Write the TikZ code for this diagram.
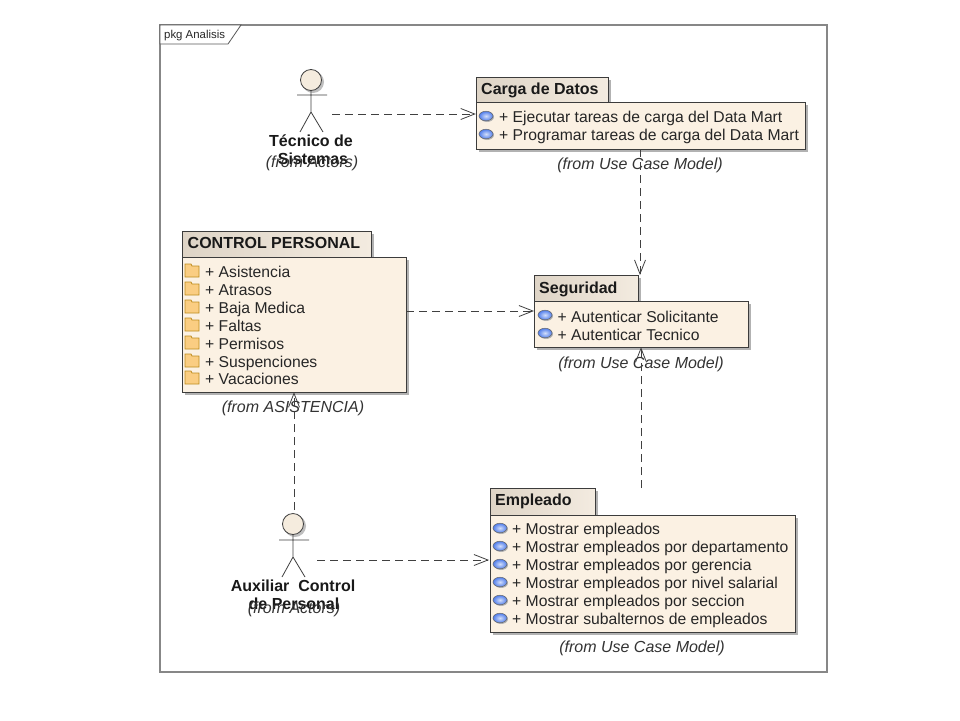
\documentclass[tikz,border=0pt]{standalone}
\usepackage{fontspec}
\setmainfont{Liberation Sans}
\usetikzlibrary{arrows.meta}
\definecolor{bodyfill}{RGB}{251,241,227}
\definecolor{tabfill}{RGB}{243,235,224}
\definecolor{tabdark}{RGB}{222,212,198}
\definecolor{edge}{RGB}{60,60,60}
\definecolor{framegray}{RGB}{135,135,135}
\definecolor{iconblue}{RGB}{80,125,235}
\definecolor{folder}{RGB}{250,205,130}
\definecolor{folderedge}{RGB}{190,140,30}
\definecolor{headfill}{RGB}{245,236,222}
\tikzset{
  x=1pt,y=-1pt,
  pkgbody/.style={draw=edge,line width=0.9pt,fill=bodyfill},
  pkgtab/.style={draw=edge,line width=0.9pt,left color=tabdark,right color=tabfill},
  shade box/.style={fill=black!30,draw=none},
  tabtext/.style={anchor=base west,inner sep=0pt,font=\fontsize{16}{18}\selectfont\bfseries,text=black!90},
  itemtext/.style={anchor=base west,inner sep=0pt,font=\fontsize{15.7}{18}\selectfont,text=black!85},
  fromtext/.style={anchor=base,inner sep=0pt,font=\fontsize{16}{18}\selectfont\itshape,text=black!80},
  actortext/.style={anchor=base,inner sep=0pt,font=\fontsize{16}{18}\selectfont\bfseries,text=black!90},
  limb/.style={draw=black!75,line width=0.8pt},
  dep/.style={draw=black!75,line width=0.8pt,dash pattern=on 8pt off 5pt,-{Straight Barb[length=14pt,width=11pt,line width=0.8pt]}},
  pt/.style={inner sep=0pt,minimum size=0pt},
}
\newcommand{\pkgshape}[6]{%
  \fill[shade box] (#1+3,#3+3) rectangle (#2+3,#4+3);
  \fill[shade box] (#1+3,#5+3) rectangle (#6+3,#3);
  \path[pkgtab] (#1,#5) rectangle (#6,#3);
  \path[pkgbody] (#1,#3) rectangle (#2,#4);
}
\newcommand{\opicon}[2]{%
  \fill[black!30] (#1+1,#2+1) ellipse [x radius=7,y radius=5];
  \shade[inner color=white!75!iconblue,outer color=iconblue,draw=black!60,line width=0.5pt] (#1,#2) ellipse [x radius=7,y radius=4.8];
}
\newcommand{\foldericon}[2]{%
  \path[fill=folder,draw=folderedge,line width=0.7pt] (#1,#2-5) -- (#1,#2-7) -- (#1+6,#2-7) -- (#1+7,#2-5) -- (#1+14,#2-5) -- (#1+14,#2+6) -- (#1,#2+6) -- cycle;
}
\begin{document}
\begin{tikzpicture}
\useasboundingbox (0,0) rectangle (960,720);
\fill[white] (0,0) rectangle (960,720);
% frame
\draw[framegray,line width=1.2pt,fill=white] (160,25) rectangle (827,672);
\draw[black!65,line width=0.8pt,fill=white] (160,25) -- (241,25) -- (228,44) -- (160,44) -- cycle;
\node[anchor=base west,inner sep=0pt,font=\fontsize{11.4}{13}\selectfont,text=black!85] (frameLabel) at (164,38) {pkg Analisis};

% Carga de Datos
\pkgshape{476}{805}{102}{149}{77}{608}
\node[pt] (carga) at (640.5,125.5) [minimum width=329pt,minimum height=47pt] {};
\node[tabtext] (cargaTitle) at (481,94.5) {Carga de Datos};
\opicon{486}{116}\opicon{486}{134}
\node[itemtext] (carga1) at (499,122) {+ Ejecutar tareas de carga del Data Mart};
\node[itemtext] (carga2) at (499,140) {+ Programar tareas de carga del Data Mart};
\node[fromtext] (cargaFrom) at (640,169.5) {(from Use Case Model)};

% Seguridad
\pkgshape{534}{748}{301}{347}{275}{638}
\node[pt] (seg) at (641,324) [minimum width=214pt,minimum height=46pt] {};
\coordinate (segTop) at (640,275);
\coordinate (segLeft) at (534,311);
\node[tabtext] (segTitle) at (539,293.5) {Seguridad};
\opicon{545}{315}\opicon{545}{333}
\node[itemtext] (seg1) at (557.5,322) {+ Autenticar Solicitante};
\node[itemtext] (seg2) at (557.5,340) {+ Autenticar Tecnico};
\node[fromtext] (segFrom) at (641,368.5) {(from Use Case Model)};

% Control Personal
\pkgshape{182}{406}{257}{392}{231}{371}
\node[pt] (ctrl) at (294,324.5) [minimum width=224pt,minimum height=135pt] {};
\node[tabtext] (ctrlTitle) at (187.5,248.5) {CONTROL PERSONAL};
\foldericon{185}{271}\foldericon{185}{289}\foldericon{185}{307}\foldericon{185}{325}\foldericon{185}{343}\foldericon{185}{361}\foldericon{185}{378}
\node[itemtext] (c1) at (205,277) {+ Asistencia};
\node[itemtext] (c2) at (205,295) {+ Atrasos};
\node[itemtext] (c3) at (205,313) {+ Baja Medica};
\node[itemtext] (c4) at (205,331) {+ Faltas};
\node[itemtext] (c5) at (205,349) {+ Permisos};
\node[itemtext] (c6) at (205,367) {+ Suspenciones};
\node[itemtext] (c7) at (205,384.5) {+ Vacaciones};
\node[fromtext] (ctrlFrom) at (293,412.5) {(from ASISTENCIA)};

% Empleado
\pkgshape{490}{795}{515}{632}{488}{595}
\node[pt] (emp) at (642.5,573.5) [minimum width=305pt,minimum height=117pt] {};
\coordinate (empLeft) at (489,560);
\node[tabtext] (empTitle) at (495,505.5) {Empleado};
\opicon{500}{528}\opicon{500}{546}\opicon{500}{564}\opicon{500}{582}\opicon{500}{600}\opicon{500}{618}
\node[itemtext] (e1) at (512,534) {+ Mostrar empleados};
\node[itemtext] (e2) at (512,552) {+ Mostrar empleados por departamento};
\node[itemtext] (e3) at (512,570) {+ Mostrar empleados por gerencia};
\node[itemtext] (e4) at (512,588) {+ Mostrar empleados por nivel salarial};
\node[itemtext] (e5) at (512,606) {+ Mostrar empleados por seccion};
\node[itemtext] (e6) at (512,624) {+ Mostrar subalternos de empleados};
\node[fromtext] (empFrom) at (642,652.5) {(from Use Case Model)};

% Actor: Tecnico de Sistemas
\fill[black!25] (313,82) circle (11);
\draw[limb,fill=headfill] (311,80) circle (10.5);
\draw[limb] (311,90.5) -- (311,112) (297,95) -- (327,95) (300,132) -- (311,112) -- (323,132);
\node[actortext] (tec1) at (311,146.5) {Técnico de};
\node[actortext] (tec2) at (313,164.5) {Sistemas};
\node[fromtext] (tecFrom) at (312,167.5) {(from Actors)};
\coordinate (tecOut) at (332,114);

% Actor: Auxiliar Control de Personal
\fill[black!25] (295,526) circle (11);
\draw[limb,fill=headfill] (293,524) circle (10.5);
\draw[limb] (293,534.5) -- (293,557) (279,540) -- (309,540) (282,577) -- (293,557) -- (305,577);
\node[actortext] (aux1) at (293,591) {Auxiliar\ \ Control};
\node[actortext] (aux2) at (294,609.5) {de Personal};
\node[fromtext] (auxFrom) at (294,613.5) {(from Actors)};
\coordinate (auxUp) at (294,510);
\coordinate (auxOut) at (317,560);
\coordinate (empUp) at (641,488);

% Connectors
\draw[dep] (tecOut) -- (tecOut -| carga.west);
\draw[dep] (carga.south -| segTop) -- (segTop);
\draw[dep] (ctrl.east |- segLeft) -- (segLeft);
\draw[dep] (auxUp) -- (auxUp |- ctrl.south);
\draw[dep] (auxOut) -- (empLeft);
\draw[dep] (empUp) -- (empUp |- seg.south);
\end{tikzpicture}
\end{document}
